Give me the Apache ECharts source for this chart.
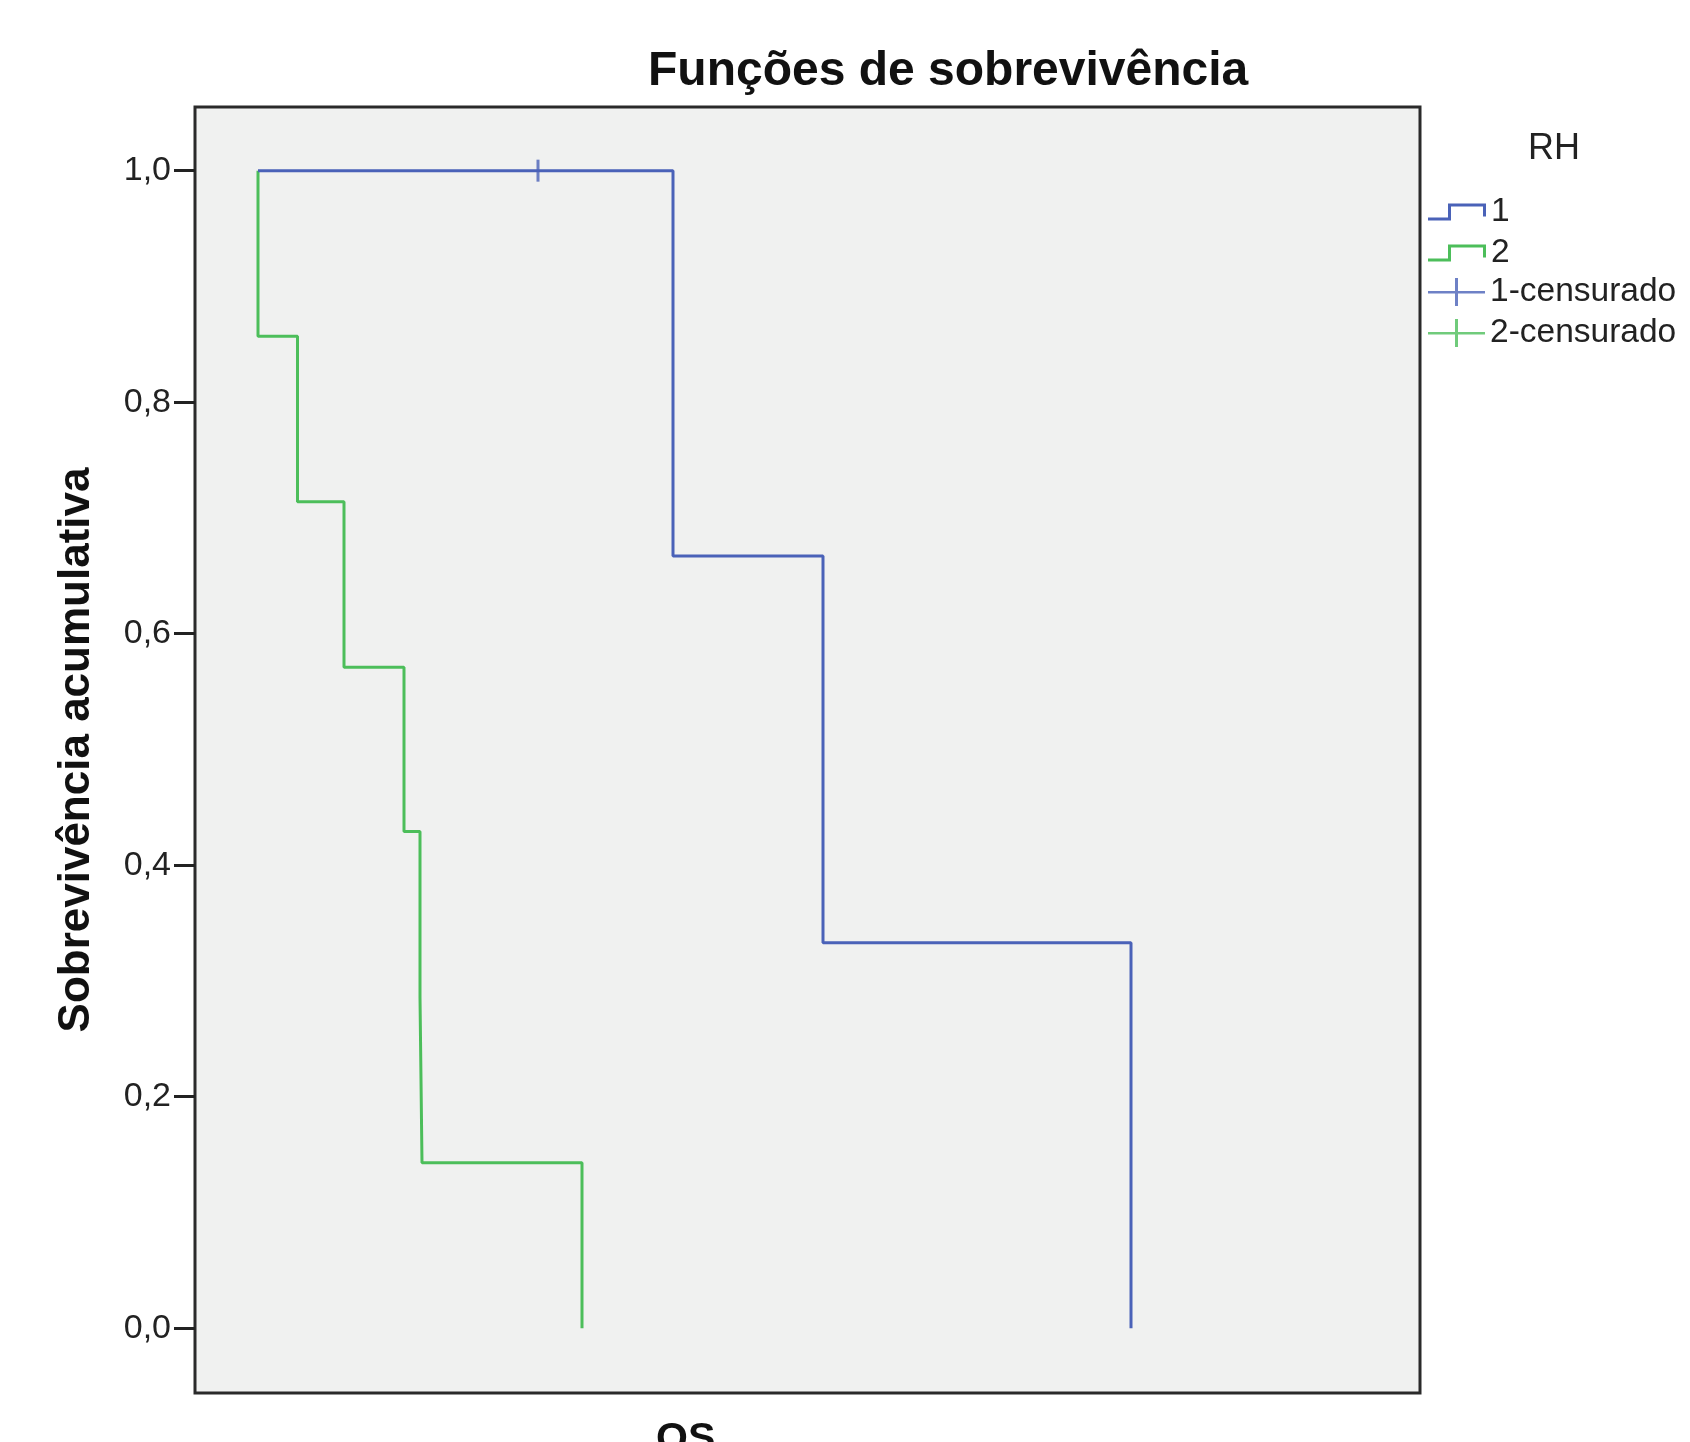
<!DOCTYPE html>
<html>
<head>
<meta charset="utf-8">
<script src="https://cdn.jsdelivr.net/npm/echarts@6/dist/echarts.min.js"></script>
<style>
  html, body { margin: 0; padding: 0; background: #fff; }
  #chart { width: 1690px; height: 1442px; }
</style>
</head>
<body>
<div id="chart"></div>
<script>
// Kaplan-Meier steps (time in arbitrary OS units)
const rh1Times = [0, 41.5, 56.5, 87.3]
const rh1Surv = [1, 0.667, 0.333, 0]
const rh2Times = [0, 0, 3.95, 8.6, 14.6, 16.2, 16.4, 32.4]
const rh2Surv = [1, 0.857, 0.714, 0.571, 0.429, 0.286, 0.143, 0]
const cens1Times = [28.0]
const cens1Surv = [1]
const cens2Times = []
const cens2Surv = []
const yTicks = [0, 0.2, 0.4, 0.6, 0.8, 1.0]

const blue = "#4a62b8"
const green = "#4cbe5a"
const font = "'Liberation Sans', Arial, sans-serif"

const stepIcon = "path://M0,14L20,14L20,0L58,0L58,13L55,13L55,3L23,3L23,17L0,17Z"
const plusIcon = "path://M0,13L57,13L57,15.5L0,15.5Z M27,0L30,0L30,28L27,28Z"

const zip = (xs, ys) => xs.map((x, i) => [x, ys[i]])

const chart = echarts.init(document.getElementById("chart"))
const option = {
    animation: false,
    backgroundColor: "#ffffff",
    textStyle: { fontFamily: font },
    title: {
        text: "Funções de sobrevivência",
        left: 648,
        top: 48,
        padding: 0,
        textStyle: { fontSize: 48, fontWeight: "bold", color: "#111", fontFamily: font },
    },
    legend: [
        {
            orient: "vertical",
            left: 1428,
            top: 195,
            padding: 0,
            itemGap: 7,
            itemWidth: 58,
            itemHeight: 17,
            textStyle: { fontSize: 33.5, color: "#222", fontFamily: font },
            data: [
                { name: "1", icon: stepIcon },
                { name: "2", icon: stepIcon },
            ],
        },
        {
            orient: "vertical",
            left: 1428,
            top: 275,
            padding: 0,
            itemGap: 7,
            itemWidth: 57,
            itemHeight: 28,
            textStyle: { fontSize: 33.5, color: "#222", fontFamily: font },
            data: [
                { name: "1-censurado", icon: plusIcon },
                { name: "2-censurado", icon: plusIcon },
            ],
        },
    ],
    graphic: [
        {
            type: "text",
            left: 1528,
            top: 131,
            style: { text: "RH", fontSize: 36, fill: "#222", fontFamily: font },
        },
        {
            type: "text",
            left: 656,
            top: 1419,
            style: { text: "OS", fontSize: 41, fontWeight: "bold", fill: "#111", fontFamily: font },
        },
    ],
    grid: {
        show: true,
        left: 195,
        right: 270,
        top: 107,
        bottom: 49,
        backgroundColor: "#f0f1f0",
        borderColor: "#2a2a2a",
        borderWidth: 3,
    },
    xAxis: {
        type: "value",
        min: -6.3,
        max: 116.2,
        axisLine: { show: false, onZero: false },
        axisTick: { show: false },
        axisLabel: { show: false },
        splitLine: { show: false },
    },
    yAxis: {
        type: "value",
        min: -0.056,
        max: 1.055,
        name: "Sobrevivência acumulativa",
        nameLocation: "middle",
        nameGap: 96,
        nameTextStyle: { fontSize: 44, fontWeight: "bold", color: "#111", fontFamily: font },
        axisLine: { show: false, onZero: false },
        splitLine: { show: false },
        axisTick: {
            show: true,
            length: 21,
            customValues: yTicks,
            lineStyle: { color: "#222", width: 3 },
        },
        axisLabel: {
            customValues: yTicks,
            fontSize: 34,
            color: "#222",
            margin: 24,
            fontFamily: font,
            formatter: v => v.toFixed(1).replace(".", ","),
        },
    },
    series: [
        {
            name: "1",
            type: "line",
            step: "end",
            showSymbol: false,
            color: blue,
            lineStyle: { width: 3, color: blue },
            data: zip(rh1Times, rh1Surv),
            z: 3,
        },
        {
            name: "2",
            type: "line",
            step: "end",
            showSymbol: false,
            color: green,
            lineStyle: { width: 3, color: green },
            data: zip(rh2Times, rh2Surv),
            z: 2,
        },
        {
            name: "1-censurado",
            type: "scatter",
            symbol: "rect",
            symbolSize: [3, 22],
            color: blue,
            data: zip(cens1Times, cens1Surv),
            z: 4,
        },
        {
            name: "2-censurado",
            type: "scatter",
            symbol: "rect",
            symbolSize: [3, 22],
            color: green,
            data: zip(cens2Times, cens2Surv),
            z: 4,
        },
    ],
}
chart.setOption(option)
</script>
</body>
</html>
